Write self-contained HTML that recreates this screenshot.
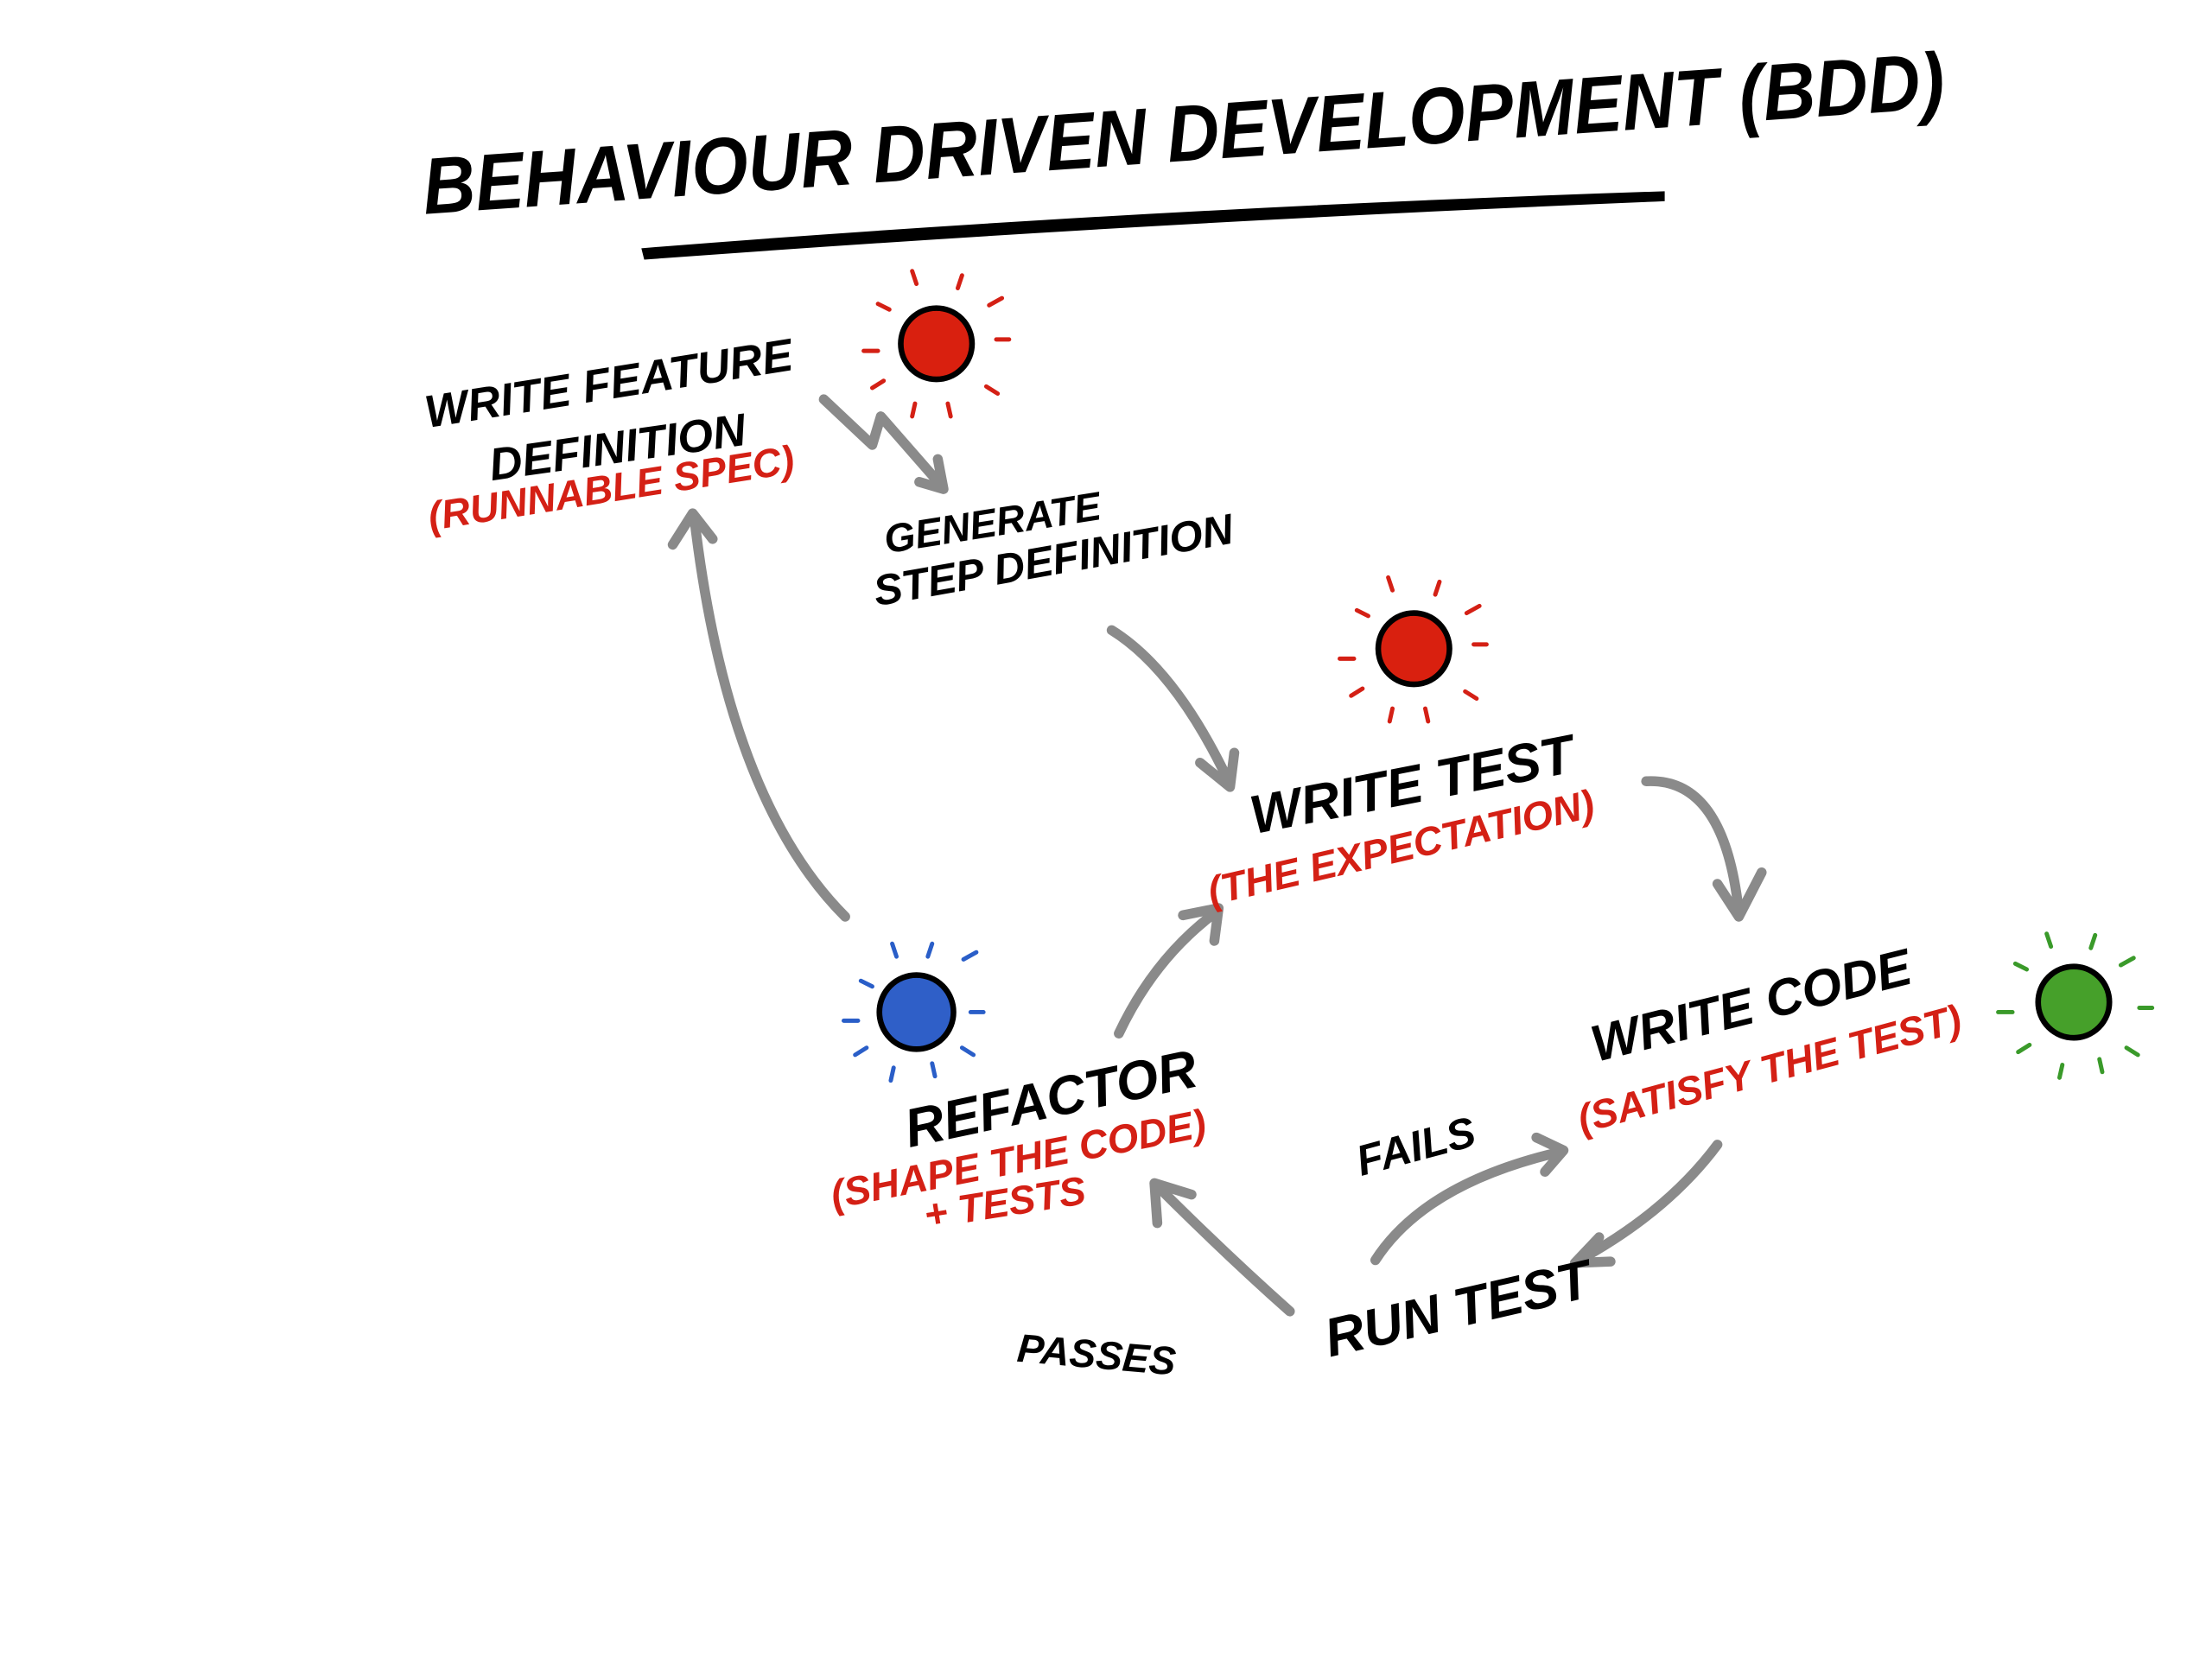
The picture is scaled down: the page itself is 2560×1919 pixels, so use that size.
<!DOCTYPE html>
<html><head><meta charset="utf-8"><style>
html,body{margin:0;padding:0;background:#fff;}
svg{display:block;}
text{font-family:"Liberation Sans",sans-serif;font-style:italic;font-weight:bold;}
</style></head><body>
<svg width="2560" height="1919" viewBox="0 0 1552 1163" xmlns="http://www.w3.org/2000/svg">
<!-- title -->
<text x="298" y="150" font-size="56" font-weight="600" fill="#000" transform="rotate(-4 298 150)" textLength="1070" lengthAdjust="spacingAndGlyphs">BEHAVIOUR DRIVEN DEVELOPMENT (BDD)</text>
<path d="M450 174 Q800 146 1168 134 L1168 141 Q800 156 452 182 Z" fill="#000"/>

<!-- dots -->
<g stroke-linecap="round">
<g stroke="#d42015" stroke-width="3">
<circle cx="657" cy="241" r="25" fill="#d9200f" stroke="#000" stroke-width="4"/>
<path d="M606 246h10M616 213l8 4M640 190l3 9M675 193l-3 9M703 209l-9 5M708 238h-9M700 276l-8-5M667 292l-2-9M640 292l2-9M612 272l8-5"/>
</g>
<g stroke="#d42015" stroke-width="3">
<circle cx="992" cy="455" r="25" fill="#d9200f" stroke="#000" stroke-width="4"/>
<path d="M940 462h10M952 428l8 4M974 405l3 9M1010 408l-3 9M1038 425l-9 5M1043 452h-9M1036 490l-8-5M1002 506l-2-9M975 506l2-9M948 488l8-5"/>
</g>
<g stroke="#3a9a2a" stroke-width="3">
<circle cx="1455" cy="703" r="25" fill="#46a02a" stroke="#000" stroke-width="4"/>
<path d="M1402 710h10M1414 676l8 4M1436 655l3 9M1470 656l-3 9M1497 672l-9 5M1510 707h-9M1500 740l-8-5M1475 752l-2-9M1445 756l2-9M1416 738l8-5"/>
</g>
<g stroke="#2a5ec8" stroke-width="3">
<circle cx="643" cy="710" r="26" fill="#2f5fc8" stroke="#000" stroke-width="4"/>
<path d="M592 716h10M604 688l8 4M626 662l3 9M654 662l-3 9M685 668l-9 5M690 710h-9M683 740l-8-5M656 755l-2-9M625 758l2-9M600 740l8-5"/>
</g>
</g>

<!-- arrows -->
<g fill="none" stroke="#8a8a8a" stroke-width="7" stroke-linecap="round" stroke-linejoin="round">
<path d="M578 280 L612 312 L618 292 L660 340"/>
<path d="M645 338 L662 343 L658 322"/>
<path d="M780 442 Q825 470 862 548"/>
<path d="M842 535 L863 552 L866 528"/>
<path d="M1155 548 Q1210 545 1220 640"/>
<path d="M1205 620 L1220 643 L1236 612"/>
<path d="M1205 803 Q1170 850 1108 884"/>
<path d="M1122 868 L1105 886 L1130 885"/>
<path d="M965 884 Q1000 830 1095 808"/>
<path d="M1078 798 L1097 807 L1084 822"/>
<path d="M905 920 Q860 880 812 832"/>
<path d="M812 858 L810 830 L836 838"/>
<path d="M785 725 Q810 672 853 640"/>
<path d="M830 642 L855 637 L852 660"/>
<path d="M593 643 Q510 560 487 362"/>
<path d="M472 382 L486 360 L500 378"/>
</g>

<!-- labels -->
<g font-size="32" fill="#000">
<text x="300" y="300" transform="rotate(-9 300 300)">WRITE FEATURE</text>
<text x="345" y="337" transform="rotate(-8 345 337)">DEFINITION</text>
<text x="622" y="388" font-size="28" transform="rotate(-9 622 388)">GENERATE</text>
<text x="615" y="425" font-size="30" transform="rotate(-10 615 425)">STEP DEFINITION</text>
<text x="880" y="585" font-size="38" transform="rotate(-11 880 585)">WRITE TEST</text>
<text x="1120" y="745" font-size="36" transform="rotate(-14 1120 745)">WRITE CODE</text>
<text x="638" y="805" font-size="38" transform="rotate(-12 638 805)">REFACTOR</text>
<text x="933" y="952" font-size="38" transform="rotate(-13 933 952)">RUN TEST</text>
<text x="955" y="825" font-size="30" transform="rotate(-15 955 825)">FAILS</text>
<text x="713" y="955" font-size="28" transform="rotate(5 713 955)">PASSES</text>
</g>
<g font-size="28" fill="#d42015">
<text x="302" y="372" transform="rotate(-9 302 372)">(RUNNABLE SPEC)</text>
<text x="850" y="635" transform="rotate(-13 850 635)">(THE EXPECTATION)</text>
<text x="1110" y="795" transform="rotate(-15 1110 795)">(SATISFY THE TEST)</text>
<text x="585" y="848" transform="rotate(-11 585 848)">(SHAPE THE CODE)</text>
<text x="650" y="862" transform="rotate(-9 650 862)">+ TESTS</text>
</g>
</svg>
</body></html>
